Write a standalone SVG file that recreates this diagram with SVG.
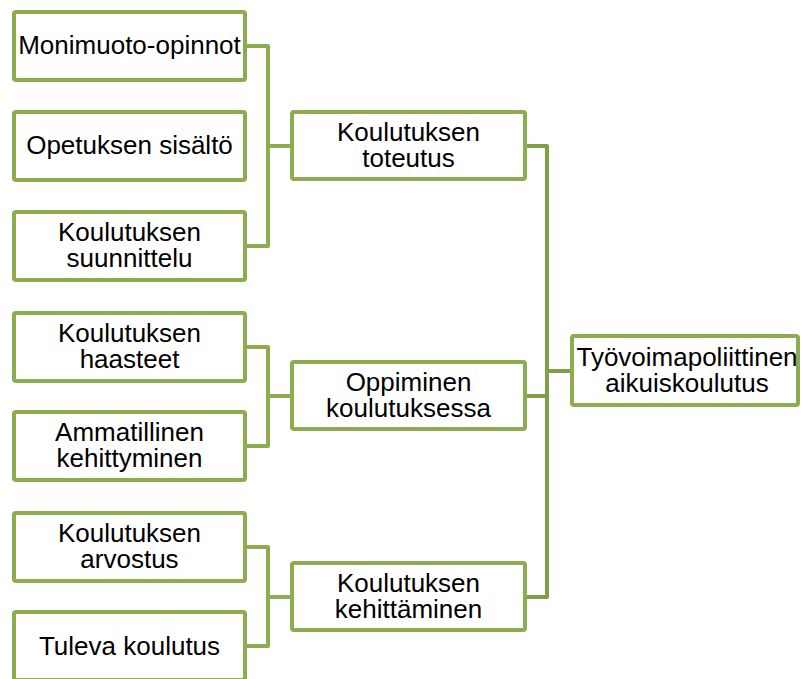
<svg xmlns="http://www.w3.org/2000/svg" width="803" height="679" viewBox="0 0 803 679">
<style>
.box{fill:#ffffff;stroke:#8dac50;stroke-width:4}
.ln{fill:none;stroke:#8dac50;stroke-width:4;stroke-linejoin:round}
.ln2{fill:none;stroke:#819f47;stroke-width:4;stroke-linejoin:round}
text{font-family:"Liberation Sans",Arial,sans-serif;font-size:26px;fill:#000;text-anchor:middle}
</style>
<rect width="803" height="679" fill="#ffffff"/>
<g id="connectors">
<path class="ln" d="M247,46 H268 V246 H247 M268,146 H290"/>
<path class="ln" d="M247,347 H268 V446 H247 M268,396 H290"/>
<path class="ln" d="M247,547 H268 V646 H247 M268,597 H290"/>
<path class="ln2" d="M527,146 H547 V597 H527 M527,396 H547 M547,371 H570"/>
</g>
<g id="n1"><rect class="box" x="14" y="12" width="231" height="68" rx="2"/><text x="129.5" y="54">Monimuoto-opinnot</text></g>
<g id="n2"><rect class="box" x="14" y="112" width="231" height="68" rx="2"/><text x="129.5" y="154">Opetuksen sisältö</text></g>
<g id="n3"><rect class="box" x="14" y="212" width="231" height="68" rx="2"/><text x="129.5" y="241">Koulutuksen</text><text x="129.5" y="267">suunnittelu</text></g>
<g id="n4"><rect class="box" x="14" y="313" width="231" height="68" rx="2"/><text x="129.5" y="342">Koulutuksen</text><text x="129.5" y="368">haasteet</text></g>
<g id="n5"><rect class="box" x="14" y="412" width="231" height="68" rx="2"/><text x="129.5" y="441">Ammatillinen</text><text x="129.5" y="467">kehittyminen</text></g>
<g id="n6"><rect class="box" x="14" y="513" width="231" height="68" rx="2"/><text x="129.5" y="542">Koulutuksen</text><text x="129.5" y="568">arvostus</text></g>
<g id="n7"><rect class="box" x="14" y="612" width="231" height="68" rx="2"/><text x="129.5" y="655">Tuleva koulutus</text></g>
<g id="m1"><rect class="box" x="292" y="112" width="233" height="67" rx="2"/><text x="408.5" y="141">Koulutuksen</text><text x="408.5" y="167">toteutus</text></g>
<g id="m2"><rect class="box" x="292" y="362" width="233" height="67" rx="2"/><text x="408.5" y="391">Oppiminen</text><text x="408.5" y="417">koulutuksessa</text></g>
<g id="m3"><rect class="box" x="292" y="563" width="233" height="67" rx="2"/><text x="408.5" y="592">Koulutuksen</text><text x="408.5" y="618">kehittäminen</text></g>
<g id="root"><rect class="box" x="572" y="336" width="226" height="69" rx="2"/><text x="687" y="366">Työvoimapoliittinen</text><text x="687" y="392">aikuiskoulutus</text></g>
</svg>
